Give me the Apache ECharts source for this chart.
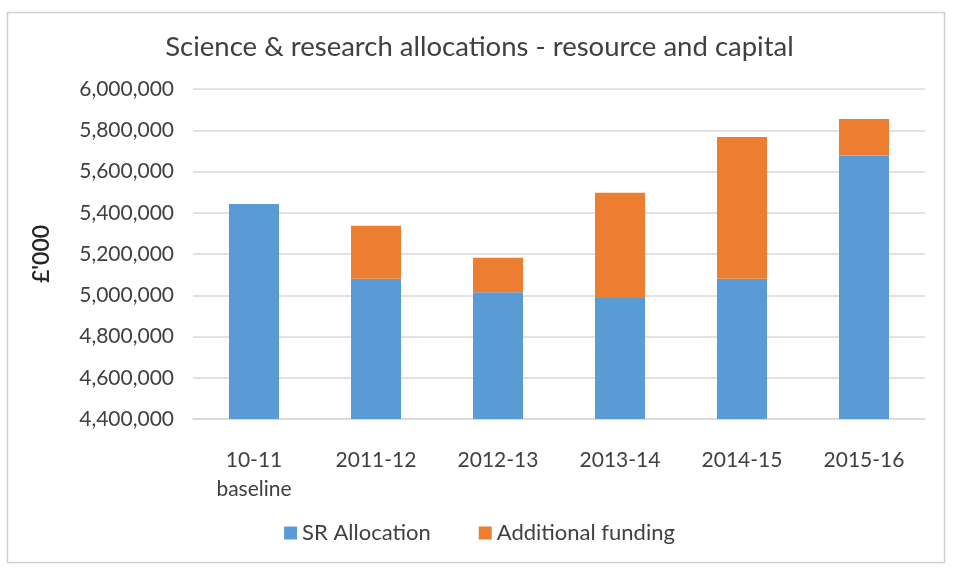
<!DOCTYPE html>
<html><head><meta charset="utf-8">
<script src="https://cdn.jsdelivr.net/npm/echarts@6/dist/echarts.min.js"></script>
<style>html,body{margin:0;padding:0;background:#fff}#c{width:959px;height:576px}</style>
</head><body><div id="c"></div>
<script>
const categories = ["10-11\nbaseline", "2011-12", "2012-13", "2013-14", "2014-15", "2015-16"];
const srAllocation = [5442000, 5080000, 5014000, 4987000, 5080000, 5678000];
const additionalFunding = [0, 257000, 168000, 510000, 687000, 177000];
const yTicks = [4400000, 6000000, 200000];

const chart = echarts.init(document.getElementById('c'), null, {renderer: 'canvas'});
const font = 'Lato, "Open Sans", sans-serif';
chart.setOption({
  animation: false,
  backgroundColor: '#fff',
  graphic: [{type: 'rect', shape: {x: 7.5, y: 12.5, width: 937, height: 550}, style: {fill: 'none', stroke: '#d0d0d0', lineWidth: 1.5}, silent: true}],
  title: {text: 'Science & research allocations - resource and capital', left: 'center', top: 28,
    textStyle: {fontFamily: font, fontSize: 27.5, fontWeight: 'normal', color: '#404040'}},
  legend: {bottom: 27, left: 'center', itemWidth: 13, itemHeight: 13, itemGap: 48, icon: 'rect',
    textStyle: {fontFamily: font, fontSize: 22, color: '#404040'}},
  grid: {left: 193, right: 34, top: 89, bottom: 157},
  xAxis: {type: 'category', data: categories,
    axisLine: {lineStyle: {color: '#d9d9d9', width: 1.5}}, axisTick: {show: false},
    axisLabel: {margin: 27,
      formatter: v => v.split('\n').map(s => '{a|' + s + '}').join('\n'),
      rich: {a: {fontFamily: font, fontSize: 21, color: '#404040', lineHeight: 29}}}},
  yAxis: {type: 'value', min: yTicks[0], max: yTicks[1], interval: yTicks[2],
    name: "£'000", nameLocation: 'middle', nameGap: 140, nameRotate: 90,
    nameTextStyle: {fontFamily: font, fontSize: 23, color: '#262626', fontWeight: 600},
    axisLine: {show: false}, axisTick: {show: false},
    splitLine: {lineStyle: {color: '#d9d9d9', width: 1.5}},
    axisLabel: {fontFamily: font, fontSize: 21, color: '#404040', margin: 19,
      formatter: v => v.toLocaleString('en-US')}},
  series: [
    {name: 'SR Allocation', type: 'bar', stack: 't', data: srAllocation, barWidth: 50,
      itemStyle: {color: '#5b9bd5'}},
    {name: 'Additional funding', type: 'bar', stack: 't', data: additionalFunding, barWidth: 50,
      itemStyle: {color: '#ed7d31'}}
  ]
});
</script></body></html>
